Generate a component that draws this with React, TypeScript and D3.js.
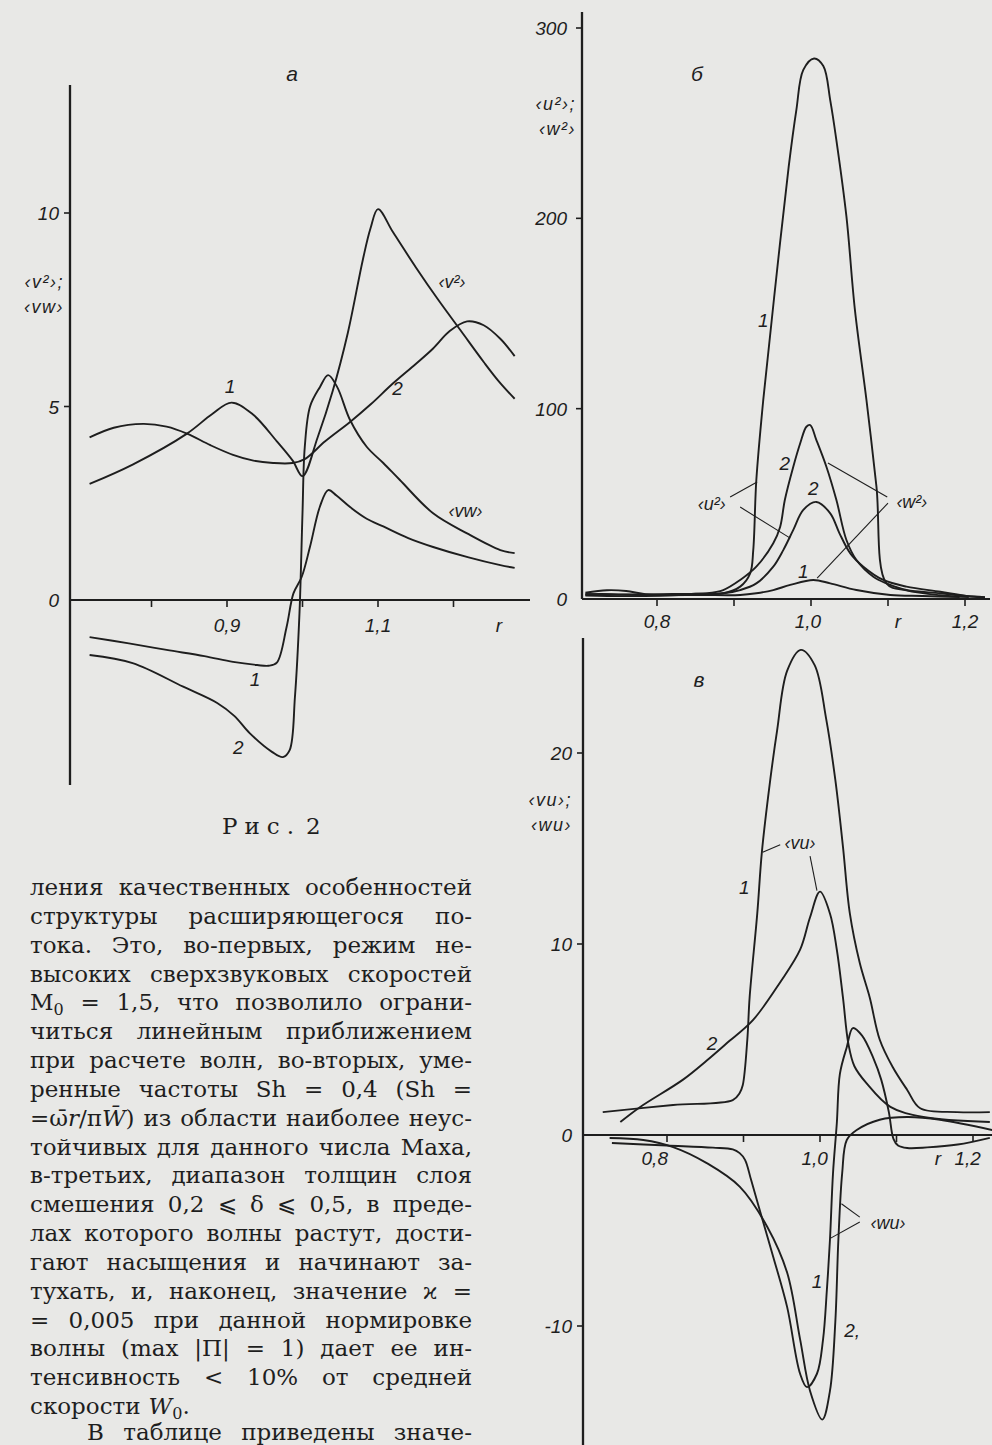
import React, { useEffect, useRef } from 'react';
import * as d3 from 'd3';

type Pt = [number, number];

// --- panel а : <v²> and <vw> against r
const aV2First: Pt[] = [
  [0.718, 3.0], [0.775, 3.5], [0.847, 4.3], [0.88, 4.8], [0.906, 5.1], [0.934, 4.8],
  [0.966, 4.1], [0.987, 3.6], [1.0, 3.2], [1.02, 4.2], [1.04, 5.4], [1.06, 6.9],
  [1.08, 8.8], [1.09, 9.6], [1.1, 10.1], [1.12, 9.5], [1.15, 8.6], [1.18, 7.75],
  [1.21, 6.95], [1.24, 6.15], [1.26, 5.65], [1.281, 5.2]
];
const aV2Second: Pt[] = [
  [0.718, 4.2], [0.75, 4.45], [0.789, 4.55], [0.82, 4.48], [0.847, 4.3], [0.878, 4.0],
  [0.908, 3.75], [0.935, 3.6], [0.961, 3.54], [0.987, 3.54], [1.003, 3.64], [1.03, 4.1],
  [1.063, 4.6], [1.09, 5.05], [1.12, 5.6], [1.15, 6.1], [1.173, 6.5], [1.195, 6.95],
  [1.218, 7.2], [1.24, 7.1], [1.262, 6.75], [1.281, 6.3]
];
const aVwFirst: Pt[] = [
  [0.718, -0.96], [0.77, -1.12], [0.82, -1.29], [0.87, -1.45], [0.908, -1.6], [0.94, -1.68],
  [0.955, -1.7], [0.966, -1.62], [0.979, -0.69], [0.988, 0.17], [0.999, 0.6], [1.01, 1.38],
  [1.023, 2.41], [1.034, 2.84], [1.045, 2.7], [1.063, 2.4], [1.085, 2.1], [1.107, 1.9],
  [1.14, 1.6], [1.173, 1.37], [1.22, 1.1], [1.262, 0.9], [1.281, 0.83]
];
const aVwSecond: Pt[] = [
  [0.718, -1.42], [0.775, -1.63], [0.842, -2.24], [0.887, -2.66], [0.91, -3.0], [0.93, -3.44],
  [0.96, -3.93], [0.974, -4.06], [0.983, -3.88], [0.99, -2.5], [0.996, -0.34], [1.0, 2.25],
  [1.003, 3.95], [1.01, 5.0], [1.023, 5.5], [1.034, 5.81], [1.046, 5.5], [1.063, 4.65],
  [1.085, 3.96], [1.107, 3.54], [1.129, 3.1], [1.173, 2.24], [1.218, 1.72], [1.262, 1.29],
  [1.281, 1.21]
];

// --- panel б : <u²> and <w²> against r
const bU2First: Pt[] = [
  [0.707, 3.3], [0.735, 4.6], [0.76, 4.2], [0.785, 2.5], [0.82, 2.2], [0.85, 2.8],
  [0.886, 3.0], [0.908, 6.5], [0.921, 13.5], [0.925, 25.7], [0.929, 62.5], [0.938, 104.6],
  [0.952, 158], [0.971, 227], [0.981, 257], [0.99, 278], [1.004, 284], [1.016, 280],
  [1.025, 262], [1.033, 241], [1.046, 201], [1.057, 152], [1.072, 104.6], [1.085, 59],
  [1.098, 8.2], [1.124, 4.5], [1.167, 2.0], [1.205, 1.0]
];
const bU2Second: Pt[] = [
  [0.707, 1.8], [0.76, 1.5], [0.82, 2.0], [0.86, 2.6], [0.886, 3.0], [0.908, 4.7],
  [0.929, 8.2], [0.951, 17], [0.964, 25.7], [0.977, 36.3], [0.99, 46.8], [1.007, 51],
  [1.025, 45], [1.037, 34.5], [1.051, 24], [1.068, 17], [1.094, 10], [1.124, 6.5],
  [1.168, 3.8], [1.202, 1.6], [1.226, 0.8]
];
const bW2First: Pt[] = [
  [0.707, 2.1], [0.726, 2.6], [0.76, 2.2], [0.804, 2.0], [0.856, 2.1], [0.908, 2.1],
  [0.929, 3.0], [0.951, 4.7], [0.973, 7.4], [1.003, 10], [1.025, 8.2], [1.059, 4.7],
  [1.103, 2.1], [1.145, 1.6], [1.193, 1.0]
];
const bW2Second: Pt[] = [
  [0.707, 2.6], [0.76, 2.4], [0.82, 2.6], [0.865, 3.0], [0.886, 4.7], [0.908, 10],
  [0.929, 17], [0.951, 29.3], [0.96, 38], [0.966, 52], [0.977, 69.5], [0.986, 81.8],
  [0.994, 90.5], [0.999, 91.4], [1.007, 83.5], [1.02, 69.5], [1.033, 52], [1.046, 31],
  [1.059, 20.5], [1.081, 11.7], [1.098, 8.2], [1.124, 4.7], [1.168, 3.0], [1.2, 1.6],
  [1.226, 1.0]
];

// --- panel в : <vu> and <wu> against r
const cVuFirst: Pt[] = [
  [0.716, 1.2], [0.808, 1.57], [0.886, 1.83], [0.895, 2.2], [0.899, 2.6], [0.905, 5.0],
  [0.908, 7.2], [0.918, 11.6], [0.924, 14.8], [0.935, 18.6], [0.944, 21.2], [0.957, 24.3],
  [0.975, 25.4], [0.993, 24.6], [1.008, 21.8], [1.02, 18.6], [1.03, 15.1], [1.039, 11.6],
  [1.052, 9.0], [1.065, 7.2], [1.078, 5.0], [1.095, 3.56], [1.114, 2.36], [1.131, 1.4],
  [1.179, 1.2], [1.222, 1.2]
];
const cVuSecond: Pt[] = [
  [0.739, 0.68], [0.765, 1.47], [0.821, 2.9], [0.852, 3.9], [0.878, 4.8], [0.912, 6.0],
  [0.948, 8.0], [0.974, 9.7], [0.987, 11.4], [1.0, 12.74], [1.013, 11.6], [1.022, 9.7],
  [1.03, 7.2], [1.037, 4.8], [1.045, 3.6], [1.061, 2.7], [1.092, 1.47], [1.135, 0.94],
  [1.222, 0.68]
];
const cWuFirst: Pt[] = [
  [0.728, -0.42], [0.8, -0.55], [0.86, -0.66], [0.886, -0.75], [0.895, -0.95], [0.902, -1.3],
  [0.91, -2.36], [0.926, -4.6], [0.939, -6.4], [0.957, -9.0], [0.974, -12.5], [0.983, -13.2],
  [0.996, -12.5], [1.004, -10.7], [1.009, -8.1], [1.013, -5.5], [1.017, -2.0], [1.022, 0.63],
  [1.026, 3.2], [1.035, 4.6], [1.043, 5.6], [1.055, 5.2], [1.07, 4.0], [1.08, 2.9],
  [1.09, 1.2], [1.096, -0.2], [1.102, -0.55], [1.114, -0.68], [1.14, -0.65], [1.18, -0.5],
  [1.222, -0.15]
];
const cWuSecond: Pt[] = [
  [0.725, -0.16], [0.769, -0.26], [0.808, -0.63], [0.852, -1.47], [0.895, -2.7], [0.931, -4.8],
  [0.957, -7.2], [0.974, -10.7], [0.987, -13.4], [1.003, -14.9], [1.013, -13.4], [1.02, -9.8],
  [1.024, -5.5], [1.029, -2.0], [1.035, -0.26], [1.048, 0.26], [1.078, 0.8], [1.114, 0.94],
  [1.157, 0.8], [1.225, 0.26]
];

// tick values and tick texts
const aYTicks = [5, 10];
const bYTicks = [100, 200, 300];
const cYTicks = [-10, 10, 20];
const rTicks = [0.8, 0.9, 1.0, 1.1, 1.2];
const aYLabels = [10, 5, 0];
const bYLabels = [300, 200, 100, 0];
const cYLabels = [20, 10, 0, -10];

type Note = { t: string; r: number; v: number };

const aXLabels: Note[] = [
  { t: '0,9', r: 0.9, v: 0 }, { t: '1,1', r: 1.1, v: 0 }, { t: 'r', r: 1.26, v: 0 }
];
const bXLabels: Note[] = [
  { t: '0,8', r: 0.8, v: 0 }, { t: '1,0', r: 0.996, v: 0 }, { t: 'r', r: 1.113, v: 0 },
  { t: '1,2', r: 1.2, v: 0 }
];
const cXLabels: Note[] = [
  { t: '0,8', r: 0.784, v: 0 }, { t: '1,0', r: 0.993, v: 0 }, { t: 'r', r: 1.154, v: 0 },
  { t: '1,2', r: 1.193, v: 0 }
];

const aNotes: Note[] = [
  { t: '1', r: 0.904, v: 5.35 }, { t: '2', r: 1.126, v: 5.3 },
  { t: '‹v²›', r: 1.198, v: 8.06 }, { t: '‹vw›', r: 1.216, v: 2.14 },
  { t: '1', r: 0.937, v: -2.22 }, { t: '2', r: 0.915, v: -3.98 }
];
const bNotes: Note[] = [
  { t: '1', r: 0.938, v: 143 }, { t: '2', r: 0.966, v: 67.8 }, { t: '2', r: 1.003, v: 54.7 },
  { t: '1', r: 0.99, v: 11 }, { t: '‹u²›', r: 0.871, v: 46.8 }, { t: '‹w²›', r: 1.131, v: 47.8 }
];
const cNotes: Note[] = [
  { t: '1', r: 0.901, v: 12.6 }, { t: '2', r: 0.859, v: 4.45 }, { t: '‹vu›', r: 0.974, v: 15.0 },
  { t: '1', r: 0.996, v: -8.0 }, { t: '2,', r: 1.042, v: -10.6 }, { t: '‹wu›', r: 1.089, v: -4.9 }
];

const bLeaders: Pt[][] = [
  [[0.895, 53.6], [0.930, 61.5]], [[0.908, 48.3], [0.973, 32]],
  [[1.099, 53.6], [1.022, 71.5]], [[1.1, 50.4], [1.008, 11]]
];
const cLeaders: Pt[][] = [
  [[0.948, 15.2], [0.925, 14.8]], [[0.987, 14.6], [0.996, 12.8]],
  [[1.052, -4.3], [1.028, -3.6]], [[1.052, -4.55], [1.014, -5.4]]
];

const bodyLines = [
  'ления качественных особенностей',
  'структуры расширяющегося по-',
  'тока. Это, во-первых, режим не-',
  'высоких сверхзвуковых скоростей',
  'M_0 = 1,5, что позволило ограни-',
  'читься линейным приближением',
  'при расчете волн, во-вторых, уме-',
  'ренные частоты Sh = 0,4 (Sh =',
  '=ω\u0304*r*/π*W\u0304*) из области наиболее неус-',
  'тойчивых для данного числа Маха,',
  'в-третьих, диапазон толщин слоя',
  'смешения 0,2 ⩽ δ ⩽ 0,5, в преде-',
  'лах которого волны растут, дости-',
  'гают насыщения и начинают за-',
  'тухать, и, наконец, значение ϰ =',
  '= 0,005 при данной нормировке',
  'волны (max |П| = 1) дает ее ин-',
  'тенсивность < 10% от средней',
  'скорости *W*_0.',
  'В таблице приведены значе-'
];

const ink = '#1e1e1e';
const paper = '#e8e8e6';
const numFont = '"Liberation Sans", "DejaVu Sans", sans-serif';
const bodyFont = '"DejaVu Serif", "Liberation Serif", serif';
const bodySize = 23;

type PanelProps = {
  x: d3.ScaleLinear<number, number>;
  y: d3.ScaleLinear<number, number>;
  frame: { left: number; top: number; bottom: number; right: number };
  curves: Pt[][];
  yTicks: number[];
  yLabels: number[];
  yGap: number;
  xLabels: Note[];
  xLabelDrop: number;
  notes: Note[];
  leaders: Pt[][];
  title: { t: string; x: number; y: number };
  yTitle: { lines: string[]; x: number; y: number };
};

function Panel(p: PanelProps) {
  const { x, y, frame } = p;
  const line = d3.line<Pt>().x(d => x(d[0])).y(d => y(d[1])).curve(d3.curveCatmullRom.alpha(0.5));
  const y0 = y(0);
  return (
    <g>
      <line x1={frame.left} x2={frame.left} y1={frame.top} y2={frame.bottom} stroke={ink} strokeWidth={2.3} />
      <line x1={frame.left} x2={frame.right} y1={y0} y2={y0} stroke={ink} strokeWidth={2.1} />
      {rTicks.map(t => (
        <line key={'xt' + t} x1={x(t)} x2={x(t)} y1={y0} y2={y0 + 7} stroke={ink} strokeWidth={1.6} />
      ))}
      {p.yTicks.map(t => (
        <line key={'yt' + t} x1={frame.left - 6} x2={frame.left} y1={y(t)} y2={y(t)} stroke={ink} strokeWidth={1.6} />
      ))}
      {p.curves.map((c, i) => (
        <path key={'c' + i} d={line(c) || ''} fill="none" stroke={ink} strokeWidth={1.9} strokeLinejoin="round" />
      ))}
      {p.leaders.map((l, i) => (
        <line key={'l' + i} x1={x(l[0][0])} y1={y(l[0][1])} x2={x(l[1][0])} y2={y(l[1][1])} stroke={ink} strokeWidth={1.1} />
      ))}
      <g fontFamily={numFont} fontStyle="italic" fill={ink}>
        {p.yLabels.map(v => (
          <text key={'yl' + v} x={frame.left - p.yGap} y={y(v) + 7} textAnchor="end" fontSize={19}>
            {v < 0 ? '-' + Math.abs(v) : String(v)}
          </text>
        ))}
        {p.xLabels.map(n => (
          <text key={'xl' + n.t} x={x(n.r)} y={y0 + p.xLabelDrop} textAnchor="middle" fontSize={19}>
            {n.t}
          </text>
        ))}
        {p.notes.map((n, i) => (
          <text key={'n' + i} x={x(n.r)} y={y(n.v)} textAnchor="middle" fontSize={n.t.length > 2 ? 18 : 19}>
            {n.t}
          </text>
        ))}
        <text x={p.title.x} y={p.title.y} textAnchor="middle" fontSize={21}>{p.title.t}</text>
        {p.yTitle.lines.map((s, i) => (
          <text key={'yt' + i} x={p.yTitle.x} y={p.yTitle.y + i * 25} textAnchor="end" fontSize={18} letterSpacing={1.5}>
            {s}
          </text>
        ))}
      </g>
    </g>
  );
}

// split one word into runs: *..* italic, _c subscript
function runsOf(word: string) {
  const runs: { t: string; it: boolean; sub: boolean }[] = [];
  let it = false;
  let buf = '';
  const flush = () => { if (buf) { runs.push({ t: buf, it, sub: false }); buf = ''; } };
  for (let i = 0; i < word.length; i++) {
    const ch = word[i];
    if (ch === '*') { flush(); it = !it; }
    else if (ch === '_') { flush(); runs.push({ t: word[i + 1], it: false, sub: true }); i++; }
    else buf += ch;
  }
  flush();
  return runs;
}

function BodyText() {
  const ref = useRef<SVGGElement>(null);
  useEffect(() => {
    const g = d3.select(ref.current);
    g.selectAll('*').remove();
    const left = 30, right = 472, base = 895, step = 28.84;
    bodyLines.forEach((ln, li) => {
      const words = ln.split(' ');
      const start = li === 19 ? 87 : left;
      const yb = Math.min(base + li * step, 1440);
      const nodes = words.map(w => {
        const t = g.append('text').attr('y', yb);
        runsOf(w).forEach((r, k, arr) => {
          const s = t.append('tspan').text(r.t);
          if (r.it) s.attr('font-style', 'italic');
          if (r.sub) s.attr('font-size', 16).attr('dy', 5);
          else if (k > 0 && arr[k - 1].sub) s.attr('dy', -5);
        });
        return t;
      });
      const measure = () => nodes.map(n => (n.node() as SVGTextElement).getComputedTextLength());
      let widths = measure();
      const avail = right - start;
      const minGap = 6 * (words.length - 1);
      if (d3.sum(widths) + minGap > avail) {
        const k = (avail - minGap) / d3.sum(widths);
        nodes.forEach(n => n.attr('font-size', bodySize * k));
        widths = measure();
      }
      const total = d3.sum(widths);
      const justify = li !== 18 && words.length > 1;
      const gap = justify ? (avail - total) / (words.length - 1) : 8;
      let cx = start;
      nodes.forEach((n, i) => { n.attr('x', cx); cx += widths[i] + gap; });
    });
  }, []);
  return <g ref={ref} fontFamily={bodyFont} fontSize={bodySize} fill={ink} />;
}

export default function App() {
  const xA = d3.scaleLinear().domain([0.9, 1.1]).range([227, 378]);
  const yA = d3.scaleLinear().domain([0, 10]).range([600, 213]);
  const xB = d3.scaleLinear().domain([0.8, 1.2]).range([657, 965]);
  const yB = d3.scaleLinear().domain([0, 300]).range([599, 28]);
  const xC = d3.scaleLinear().domain([0.8, 1.2]).range([667, 973]);
  const yC = d3.scaleLinear().domain([0, 10]).range([1135, 944]);

  return (
    <svg width={992} height={1445} style={{ position: 'absolute', left: 0, top: 0, display: 'block' }}>
      <rect width={992} height={1445} fill={paper} />
      <Panel
        x={xA} y={yA}
        frame={{ left: 70, top: 85, bottom: 785, right: 530 }}
        curves={[aV2First, aV2Second, aVwFirst, aVwSecond]}
        yTicks={aYTicks} yLabels={aYLabels} yGap={11}
        xLabels={aXLabels} xLabelDrop={32}
        notes={aNotes} leaders={[]}
        title={{ t: 'а', x: 292, y: 81 }}
        yTitle={{ lines: ['‹v²›;', '‹vw›'], x: 64, y: 288 }}
      />
      <Panel
        x={xB} y={yB}
        frame={{ left: 582, top: 12, bottom: 599, right: 990 }}
        curves={[bU2First, bU2Second, bW2First, bW2Second]}
        yTicks={bYTicks} yLabels={bYLabels} yGap={15}
        xLabels={bXLabels} xLabelDrop={29}
        notes={bNotes} leaders={bLeaders}
        title={{ t: 'б', x: 697, y: 81 }}
        yTitle={{ lines: ['‹u²›;', '‹w²›'], x: 576, y: 110 }}
      />
      <Panel
        x={xC} y={yC}
        frame={{ left: 583, top: 638, bottom: 1445, right: 992 }}
        curves={[cVuFirst, cVuSecond, cWuFirst, cWuSecond]}
        yTicks={cYTicks} yLabels={cYLabels} yGap={11}
        xLabels={cXLabels} xLabelDrop={30}
        notes={cNotes} leaders={cLeaders}
        title={{ t: 'в', x: 699, y: 687 }}
        yTitle={{ lines: ['‹vu›;', '‹wu›'], x: 572, y: 806 }}
      />
      <text x={222} y={834} fontFamily={bodyFont} fontSize={bodySize} fill={ink} letterSpacing={7}>Рис.</text>
      <text x={306} y={834} fontFamily={bodyFont} fontSize={bodySize} fill={ink}>2</text>
      <BodyText />
    </svg>
  );
}
